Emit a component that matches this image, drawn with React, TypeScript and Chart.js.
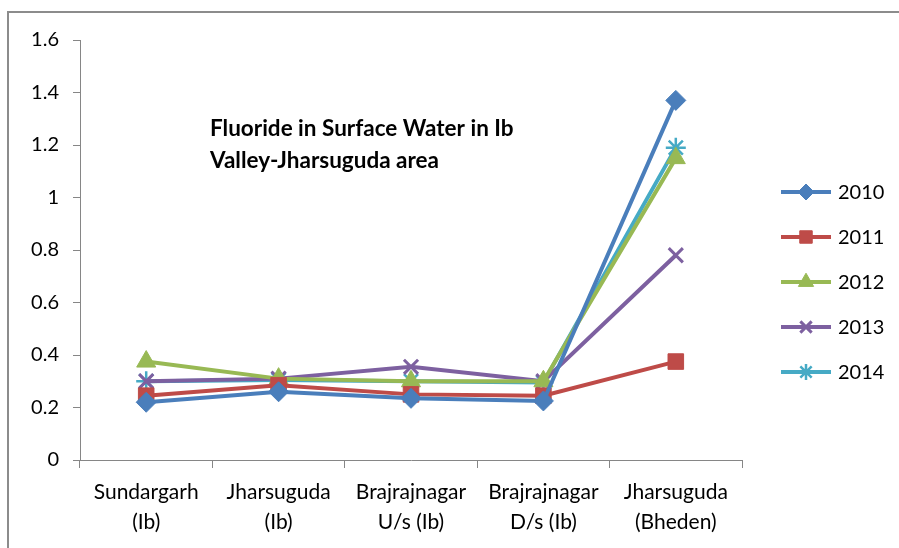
import React, { useEffect, useRef } from "react";
import { Chart, registerables } from "chart.js";
import { drawPoint } from "chart.js/helpers";

Chart.register(...registerables);

const categories: string[][] = [
  ["Sundargarh", "(Ib)"],
  ["Jharsuguda", "(Ib)"],
  ["Brajrajnagar", "U/s (Ib)"],
  ["Brajrajnagar", "D/s (Ib)"],
  ["Jharsuguda", "(Bheden)"],
];
const series2010 = [0.22, 0.26, 0.235, 0.225, 1.37];
const series2011 = [0.245, 0.285, 0.25, 0.245, 0.375];
const series2012 = [0.375, 0.31, 0.3, 0.3, 1.15];
const series2013 = [0.3, 0.31, 0.355, 0.3, 0.78];
const series2014 = [0.3, 0.305, 0.3, 0.295, 1.19];
const seriesNames = ["2010", "2011", "2012", "2013", "2014"];
const titleLines = ["Fluoride in Surface Water in Ib", "Valley-Jharsuguda area"];

const FONT = "Lato, 'Liberation Sans', sans-serif";

export default function App() {
  const ref = useRef<HTMLCanvasElement>(null);
  useEffect(() => {
    document.body.style.margin = "0";
    const ctx = ref.current!;
    const colors = ["#4a7ebb", "#be4b48", "#98b954", "#7d60a0", "#46aac5"];
    const styles: any[] = ["rectRot", "rect", "triangle", "crossRot", "star"];
    const radii = [10, 11, 11, 10, 10];
    const bws = [1, 1, 1, 3, 2.5];
    const data = [series2010, series2011, series2012, series2013, series2014];

    const decor = {
      id: "decor",
      afterDraw(chart: any) {
        const c = chart.ctx;
        c.save();
        c.strokeStyle = "#8c8c8c";
        c.lineWidth = 2;
        c.beginPath();
        c.moveTo(8, 548);
        c.lineTo(8, 12);
        c.lineTo(899, 12);
        c.stroke();
        c.fillStyle = "#000";
        c.font = `bold 22.5px ${FONT}`;
        c.textBaseline = "alphabetic";
        c.textAlign = "left";
        c.fillText(titleLines[0], 210, 136);
        c.fillText(titleLines[1], 210, 168);
        const ys = [192, 237, 282, 327, 372];
        chart.data.datasets.forEach((ds: any, i: number) => {
          c.strokeStyle = ds.borderColor;
          c.lineWidth = 4;
          c.beginPath();
          c.moveTo(781, ys[i]);
          c.lineTo(831, ys[i]);
          c.stroke();
          c.fillStyle = ds.borderColor;
          c.strokeStyle = ds.borderColor;
          c.lineWidth = ds.pointBorderWidth;
          drawPoint(c, {
            pointStyle: ds.pointStyle,
            radius: ds.pointRadius * 0.8,
            borderWidth: ds.pointBorderWidth,
            rotation: 0,
          } as any, 806, ys[i]);
          c.fillStyle = "#000";
          c.font = `20px ${FONT}`;
          c.textBaseline = "middle";
          c.textAlign = "left";
          c.fillText(ds.label, 838, ys[i] + 1);
        });
        c.restore();
      },
    };

    const chart = new Chart(ctx, {
      type: "line",
      data: {
        labels: categories,
        datasets: data.map((d, i) => ({
          label: seriesNames[i],
          data: d,
          borderColor: colors[i],
          backgroundColor: colors[i],
          borderWidth: 4,
          pointStyle: styles[i],
          pointRadius: radii[i],
          pointBorderWidth: bws[i],
          pointBorderColor: colors[i],
          pointBackgroundColor: colors[i],
          tension: 0,
        })),
      },
      options: {
        animation: false,
        responsive: false,
        maintainAspectRatio: false,
        layout: { padding: { top: 40, right: 157, left: 0, bottom: 0 } },
        plugins: { legend: { display: false }, tooltip: { enabled: false }, title: { display: false } },
        scales: {
          x: {
            offset: true,
            grid: { offset: true, drawOnChartArea: false, tickLength: 8, color: "#868686" },
            border: { color: "#868686", width: 1 },
            ticks: { color: "#000", font: { family: FONT, size: 21, lineHeight: 1.4 }, padding: 10, maxRotation: 0, autoSkip: false },
            afterFit(scale: any) { scale.height = 88; },
          },
          y: {
            min: 0,
            max: 1.6,
            ticks: { stepSize: 0.2, color: "#000", font: { family: FONT, size: 20 }, padding: 14,
              callback: (v: any) => String(Math.round(v * 10) / 10) },
            grid: { drawOnChartArea: false, tickLength: 7, color: "#868686" },
            border: { color: "#868686", width: 1 },
            afterFit(scale: any) { scale.width = 80; },
          },
        },
      },
      plugins: [decor],
    });
    return () => chart.destroy();
  }, []);
  return (
    <div style={{ position: "absolute", left: 0, top: 0, width: 899, height: 548, background: "#fff" }}>
      <canvas ref={ref} width={899} height={548} style={{ width: 899, height: 548 }} />
    </div>
  );
}
